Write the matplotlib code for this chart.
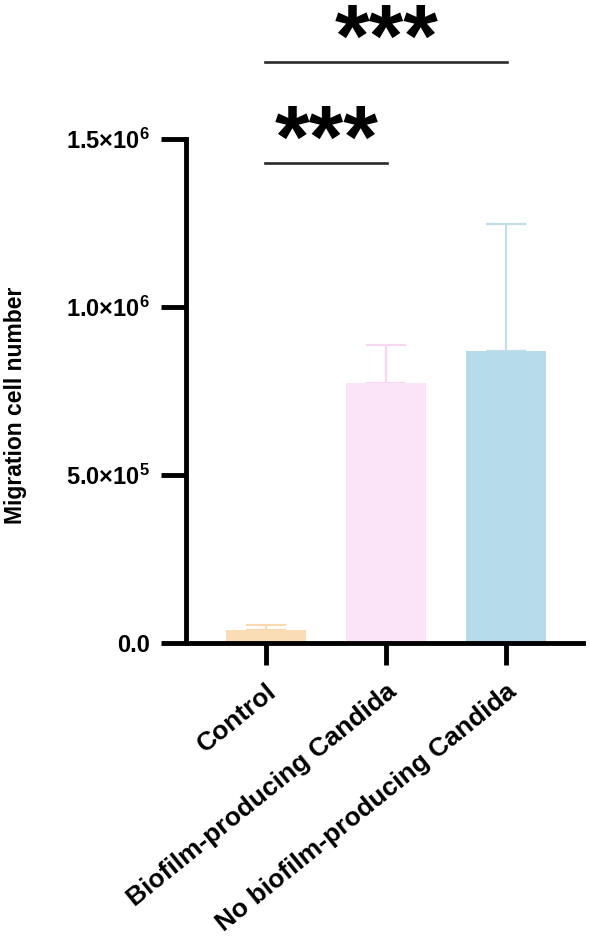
import matplotlib
matplotlib.use("Agg")
import matplotlib.pyplot as plt

# data
groups = ["Control", "Biofilm-producing Candida", "No biofilm-producing Candida"]
means = [3.9e4, 7.74e5, 8.69e5]
sd_upper = [1.5e4, 1.13e5, 3.78e5]
bar_colors = ["#FBDDB5", "#FBE4F8", "#B7DCE9"]
err_colors = ["#F9D9AE", "#F8D6F2", "#C3DEE8"]

yticks = [0, 5e5, 1e6, 1.5e6]
ytick_labels = ["0.0", r"$\mathbf{5.0{\times}10^{5}}$",
                r"$\mathbf{1.0{\times}10^{6}}$", r"$\mathbf{1.5{\times}10^{6}}$"]

# significance brackets: (left group, right group, line height, label)
comparisons = [(0, 1, 1.429e6, "***"), (0, 2, 1.729e6, "***")]

plt.rcParams["font.family"] = ["Liberation Sans", "DejaVu Sans"]
plt.rcParams["mathtext.fontset"] = "custom"
plt.rcParams["mathtext.bf"] = "Liberation Sans:bold"
plt.rcParams["mathtext.rm"] = "Liberation Sans:bold"

fig = plt.figure(figsize=(5.9, 9.42), dpi=100)
ax = fig.add_axes([0.3153, 0.3174, 0.6729, 0.535])

x = list(range(len(groups)))
for xi, m, e, c, ec in zip(x, means, sd_upper, bar_colors, err_colors):
    ax.bar(xi, m, width=0.667, color=c, zorder=2)
    ax.errorbar(xi, m, yerr=[[0], [e]], color=ec, capsize=14.5, capthick=1.6,
                elinewidth=1.6, zorder=1)

ax.set_xlim(-0.667, 2.64)
ax.set_ylim(0, 1.5e6)

ax.spines[["top", "right"]].set_visible(False)
for side in ["left", "bottom"]:
    ax.spines[side].set_linewidth(3.5)

ax.set_yticks(yticks)
ax.set_yticklabels(ytick_labels, fontsize=17, fontweight="bold")
ax.set_xticks(x)
ax.set_xticklabels(groups, fontsize=19, fontweight="bold", rotation=39,
                   ha="right", va="top", rotation_mode="anchor")
ax.tick_params(axis="y", length=18, width=3.5, pad=8)
ax.tick_params(axis="x", length=16, width=3.5, pad=10)

ax.set_ylabel("Migration cell number", fontsize=16.5, fontweight="bold")
ax.yaxis.set_label_coords(-0.40, 0.472)

for g1, g2, h, label in comparisons:
    ax.plot([g1 - 0.01, g2 + 0.01], [h, h], color="#2a2a2a", lw=1.9,
            clip_on=False)
    ax.annotate(label, xy=((g1 + g2) / 2, h), xytext=(0, -3),
                textcoords="offset points", ha="center", va="baseline",
                fontsize=64, fontweight="bold", annotation_clip=False)

fig.savefig("out.png", dpi=100)
